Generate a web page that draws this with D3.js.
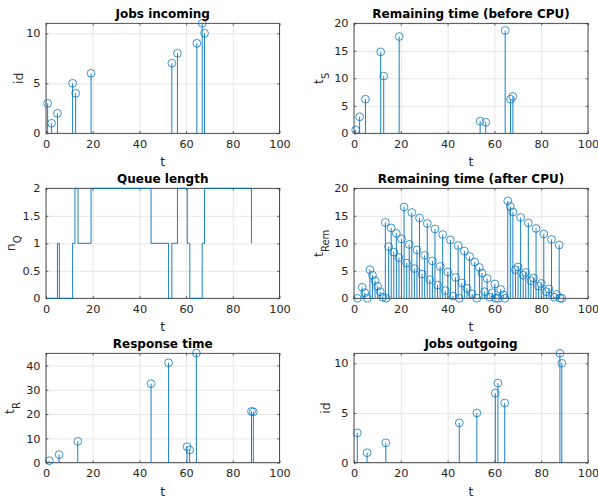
<!DOCTYPE html>
<html><head><meta charset="utf-8">
<script src="https://cdn.jsdelivr.net/npm/d3@7"></script>
<style>
body{margin:0;background:#fff;}
svg{display:block;}
text{font-family:"DejaVu Sans",sans-serif;}
</style>
</head><body>
<svg id="c" width="598" height="499"></svg>
<script>
// ---------------- data ----------------
const xTicks = [0, 20, 40, 60, 80, 100];

// incoming jobs
const inT  = [0.7, 2.4, 4.9, 11.4, 12.7, 19.3, 53.9, 56.3, 64.6, 66.9, 67.9];
const inId = [3, 1, 2, 5, 4, 6, 7, 8, 9, 11, 10];
const inTs = [0.6, 3.0, 6.2, 14.8, 10.4, 17.6, 2.2, 2.0, 18.7, 6.2, 6.7];

// queue length (stairs)
const qT = [0.7, 4.9, 5.7, 11.4, 12.4, 13.7, 19.3, 45.0, 52.5, 53.9, 56.3, 60.5, 61.6, 66.9, 67.9, 88.0];
const qN = [0, 1, 0, 1, 2, 1, 2, 1, 0, 1, 2, 1, 0, 1, 2, 1];

// remaining time after CPU
const cpuT = [1.4, 3.5, 4.6, 5.7, 6.8, 7.9, 9.0, 10.1, 11.2, 12.3, 13.4, 13.7, 14.8, 15.9, 17.0, 18.1, 19.2, 20.3,
  21.4, 22.5, 23.6, 24.7, 25.8, 26.9, 28.0, 29.1, 30.2, 31.3, 32.4, 33.5, 34.6, 35.7, 36.8, 37.9, 39.0, 40.1,
  41.2, 42.3, 43.4, 44.5, 45.0, 46.1, 47.2, 48.3, 49.4, 50.5, 51.6, 52.5, 53.6, 54.7, 55.8, 56.9, 58.0, 59.1,
  60.2, 60.5, 61.6, 62.7, 63.8, 64.5, 65.7, 66.8, 67.9, 69.0, 70.1, 71.2, 72.3, 73.4, 74.5, 75.6, 76.7, 77.8,
  78.9, 80.0, 81.1, 82.2, 83.3, 84.4, 85.5, 86.6, 87.7, 88.0, 88.8];
const cpuRem = [0, 2.0, 1.0, 0, 5.2, 4.2, 3.2, 2.2, 1.2, 0.2, 13.8, 0, 9.4, 12.8, 8.4, 11.8, 7.4, 10.8,
  16.6, 6.4, 9.8, 15.6, 5.4, 8.8, 14.6, 4.4, 7.8, 13.6, 3.4, 6.8, 12.6, 2.4, 5.8, 11.6, 1.4, 4.8,
  10.6, 0.4, 3.8, 9.6, 0, 2.8, 8.6, 1.8, 7.6, 0.8, 6.6, 0, 5.6, 4.6, 1.2, 3.6, 0.2, 1.0,
  2.6, 0, 0, 1.6, 0.6, 0, 17.7, 16.7, 15.7, 5.2, 5.7, 14.7, 4.2, 4.7, 13.7, 3.2, 3.7, 12.7,
  2.2, 2.7, 11.7, 1.2, 1.7, 10.7, 0.2, 0.7, 9.7, 0, 0];

// outgoing jobs and response time
const outT   = [1.4, 5.6, 13.6, 45.0, 52.5, 60.4, 61.5, 64.4, 88.0, 88.8];
const outId  = [3, 1, 2, 4, 5, 7, 8, 6, 11, 10];
const respT  = [0.8, 3.3, 8.8, 32.5, 41.1, 6.6, 5.2, 45.1, 21.1, 20.9];

// ---------------- drawing ----------------
const BLUE = '#0072BD', AX = '#262626', GRID = '#dfdfdf';
const TICK_FS = 11.3, LAB_FS = 12.5, TITLE_FS = 12;
const fmt = d3.format('~g');
const cols = [{x: 46, w: 233.5}, {x: 354, w: 234}];
const rows = [{y: 23.3, h: 110}, {y: 188.3, h: 110}, {y: 353.3, h: 109.4}];

const panels = [
  {c:0, r:0, title:'Jobs incoming', yl:['id',''], ymax:11, yt:[0,5,10], type:'stem', xs:inT, ys:inId, ylx:-22.7},
  {c:1, r:0, title:'Remaining time (before CPU)', yl:['t','S'], ymax:20, yt:[0,5,10,15,20], type:'stem', xs:inT, ys:inTs, ylx:-31},
  {c:0, r:1, title:'Queue length', yl:['n','Q'], ymax:2, yt:[0,0.5,1,1.5,2], type:'stairs', xs:qT, ys:qN, ylx:-31},
  {c:1, r:1, title:'Remaining time (after CPU)', yl:['t','Rem'], ymax:20, yt:[0,5,10,15,20], type:'stem', xs:cpuT, ys:cpuRem, ylx:-31},
  {c:0, r:2, title:'Response time', yl:['t','R'], ymax:45, yt:[0,10,20,30,40], type:'stem', xs:outT, ys:respT, ylx:-32},
  {c:1, r:2, title:'Jobs outgoing', yl:['id',''], ymax:11, yt:[0,5,10], type:'stem', xs:outT, ys:outId, ylx:-24.3}
];

const svg = d3.select('#c');
svg.append('rect').attr('width', 598).attr('height', 499).attr('fill', '#fff');

function styleAxis(sel, showText) {
  sel.select('.domain').remove();
  sel.selectAll('.tick line').attr('stroke', AX).attr('stroke-width', 0.7);
  sel.selectAll('.tick text').attr('fill', AX).style('font-size', TICK_FS + 'px')
     .style('font-family', '"DejaVu Sans",sans-serif');
  if (!showText) sel.selectAll('.tick text').remove();
}

panels.forEach(p => {
  const C = cols[p.c], R = rows[p.r];
  const x = d3.scaleLinear().domain([0, 100]).range([C.x, C.x + C.w]);
  const y = d3.scaleLinear().domain([0, p.ymax]).range([R.y + R.h, R.y]);
  const g = svg.append('g');

  // grid
  const gx = g.append('g').attr('transform', `translate(0,${R.y + R.h})`)
    .call(d3.axisBottom(x).tickValues(xTicks).tickSize(-R.h).tickFormat(''));
  gx.select('.domain').remove();
  gx.selectAll('.tick line').attr('stroke', GRID).attr('stroke-width', 0.8);
  const gy = g.append('g').attr('transform', `translate(${C.x},0)`)
    .call(d3.axisLeft(y).tickValues(p.yt).tickSize(-C.w).tickFormat(''));
  gy.select('.domain').remove();
  gy.selectAll('.tick line').attr('stroke', GRID).attr('stroke-width', 0.8);

  // box
  g.append('rect').attr('x', C.x).attr('y', R.y).attr('width', C.w).attr('height', R.h)
    .attr('fill', 'none').attr('stroke', AX).attr('stroke-width', 0.8);

  // ticks (inside) on all four sides
  g.append('g').attr('transform', `translate(0,${R.y + R.h})`)
    .call(d3.axisBottom(x).tickValues(xTicks).tickFormat(fmt).tickSize(-2.3).tickSizeOuter(0).tickPadding(6.3))
    .call(s => styleAxis(s, true));
  g.append('g').attr('transform', `translate(0,${R.y})`)
    .call(d3.axisTop(x).tickValues(xTicks).tickSize(-2.3).tickSizeOuter(0))
    .call(s => styleAxis(s, false));
  g.append('g').attr('transform', `translate(${C.x},0)`)
    .call(d3.axisLeft(y).tickValues(p.yt).tickFormat(fmt).tickSize(-2.3).tickSizeOuter(0).tickPadding(5.5))
    .call(s => styleAxis(s, true));
  g.append('g').attr('transform', `translate(${C.x + C.w},0)`)
    .call(d3.axisRight(y).tickValues(p.yt).tickSize(-2.3).tickSizeOuter(0))
    .call(s => styleAxis(s, false));

  // data
  const pts = p.xs.map((t, i) => ({t, v: p.ys[i]}));
  if (p.type === 'stem') {
    g.append('g').selectAll('line').data(pts).join('line')
      .attr('x1', d => x(d.t)).attr('x2', d => x(d.t))
      .attr('y1', y(0)).attr('y2', d => y(d.v))
      .attr('stroke', BLUE).attr('stroke-width', 0.9);
    g.append('g').selectAll('circle').data(pts).join('circle')
      .attr('cx', d => x(d.t)).attr('cy', d => y(d.v)).attr('r', 3.9)
      .attr('fill', 'none').attr('stroke', BLUE).attr('stroke-width', 0.75);
  } else {
    const line = d3.line().x(d => x(d.t)).y(d => y(d.v)).curve(d3.curveStepAfter);
    g.append('path').datum(pts).attr('d', line)
      .attr('fill', 'none').attr('stroke', BLUE).attr('stroke-width', 0.9);
  }

  // title
  g.append('text').attr('x', C.x + C.w / 2).attr('y', R.y - 5)
    .attr('text-anchor', 'middle').attr('fill', '#000')
    .style('font-size', TITLE_FS + 'px').style('font-weight', 'bold').text(p.title);

  // x label
  g.append('text').attr('x', C.x + C.w / 2).attr('y', R.y + R.h + 33)
    .attr('text-anchor', 'middle').attr('fill', AX).style('font-size', LAB_FS + 'px').text('t');

  // y label
  const yl = g.append('text')
    .attr('transform', `translate(${C.x + p.ylx},${R.y + R.h / 2}) rotate(-90)`)
    .attr('text-anchor', 'middle').attr('fill', AX).style('font-size', LAB_FS + 'px');
  yl.append('tspan').text(p.yl[0]);
  if (p.yl[1]) {
    yl.append('tspan').attr('dy', 5.5).style('font-size', '10px').text(p.yl[1]);
  }
});
</script>
</body></html>
